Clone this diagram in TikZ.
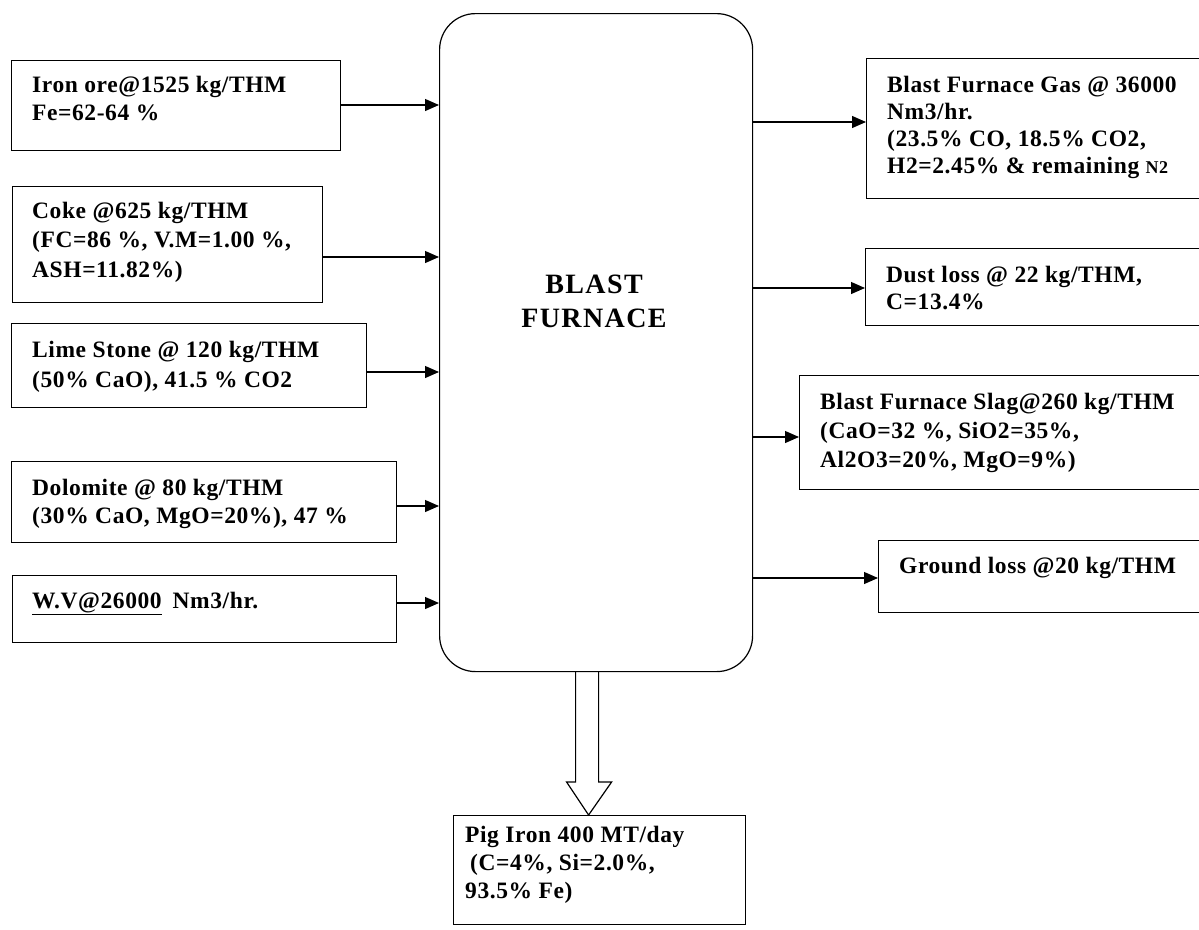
\documentclass[tikz,border=0pt]{standalone}
\usepackage{fontspec}
\setmainfont{Liberation Serif}[LetterSpace=2.5]
\newfontfamily\titlefont{Liberation Serif}[LetterSpace=5]
\usetikzlibrary{arrows.meta,calc}
\tikzset{
  boxline/.style={draw=black, line width=1.2pt, rectangle, inner sep=0pt},
  lbl/.style={anchor=north west, inner sep=0pt, align=left, font=\bfseries\fontsize{23.5}{28}\selectfont},
  flow/.style={draw=black, line width=1.2pt, -{Triangle[length=14pt,width=12pt]}},
}
\newcommand{\fstrut}{\rule{0pt}{18pt}}
\newcommand{\mkbox}[5]{\node[boxline, anchor=north west, minimum width=#4-#2, minimum height=#5-#3] (#1) at (#2,#3) {};}
\begin{document}
\begin{tikzpicture}[x=1pt,y=-1pt]
\useasboundingbox (0,0) rectangle (1199,929);
% furnace
\node[boxline, rounded corners=36pt, anchor=north west, minimum width=313, minimum height=658] (furnace) at (439,13) {};
\node[anchor=north, inner sep=0pt, align=center, font=\titlefont\bfseries\fontsize{28}{34}\selectfont] (ftext) at (594,271) {\rule{0pt}{22pt}BLAST\\FURNACE};
% input boxes
\mkbox{iron}{11}{60}{340}{150}
\mkbox{coke}{12}{186}{322}{302}
\mkbox{lime}{11}{323}{366}{407}
\mkbox{dolo}{11}{461}{396}{542}
\mkbox{wv}{12}{575}{396}{642}
% output boxes
\mkbox{gas}{866}{58}{1202}{198}
\mkbox{dust}{865}{248}{1202}{325}
\mkbox{slag}{799}{375}{1202}{489}
\mkbox{ground}{878}{540}{1202}{612}
\mkbox{pig}{453}{815}{745}{924}
% texts
\node[lbl] (tiron) at (32,74) {\fstrut Iron ore@1525 kg/THM\\Fe=62-64 \%};
\node[lbl, font=\bfseries\fontsize{23.5}{29.5}\selectfont] (tcoke) at (32,200) {\fstrut Coke @625 kg/THM\\(FC=86 \%, V.M=1.00 \%,\\ASH=11.82\%)};
\node[lbl, font=\bfseries\fontsize{23.5}{30}\selectfont] (tlime) at (32,339) {\fstrut Lime Stone @ 120 kg/THM\\(50\% CaO), 41.5 \% CO2};
\node[lbl] (tdolo) at (32,477) {\fstrut Dolomite @ 80 kg/THM\\(30\% CaO, MgO=20\%), 47 \%};
\node[lbl] (twv) at (32,590) {\fstrut\underline{W.V@26000}\hspace{11pt}Nm3/hr.};
\node[lbl, font=\bfseries\fontsize{23.5}{27}\selectfont] (tgas) at (887,74) {\fstrut Blast Furnace Gas @ 36000\\Nm3/hr.\\(23.5\% CO, 18.5\% CO2,\\H2=2.45\% \& remaining {\fontsize{18}{18}\selectfont N2}};
\node[lbl, font=\bfseries\fontsize{23.5}{27}\selectfont] (tdust) at (886,264) {\fstrut Dust loss @ 22 kg/THM,\\C=13.4\%};
\node[lbl, font=\bfseries\fontsize{23.5}{29}\selectfont] (tslag) at (820,391) {\fstrut Blast Furnace Slag@260 kg/THM\\(CaO=32 \%, SiO2=35\%,\\Al2O3=20\%, MgO=9\%)};
\node[lbl] (tground) at (899,555) {\fstrut Ground loss @20 kg/THM};
\node[lbl, font=\bfseries\fontsize{23.5}{28}\selectfont] (tpig) at (465,824) {\fstrut Pig Iron 400 MT/day\\\hspace{5pt}(C=4\%, Si=2.0\%,\\93.5\% Fe)};
% input arrows
\draw[flow] (iron.east |- 0,105) -- (furnace.west |- 0,105);
\draw[flow] (coke.east |- 0,257) -- (furnace.west |- 0,257);
\draw[flow] (lime.east |- 0,372) -- (furnace.west |- 0,372);
\draw[flow] (dolo.east |- 0,506) -- (furnace.west |- 0,506);
\draw[flow] (wv.east |- 0,603) -- (furnace.west |- 0,603);
% output arrows
\draw[flow] (furnace.east |- 0,122) -- (gas.west |- 0,122);
\draw[flow] (furnace.east |- 0,288) -- (dust.west |- 0,288);
\draw[flow] (furnace.east |- 0,437) -- (slag.west |- 0,437);
\draw[flow] (furnace.east |- 0,578) -- (ground.west |- 0,578);
% hollow arrow to pig iron
\draw[line width=1.2pt, line join=miter]
  ($(furnace.south)+(-20.5,0)$) -- ($(pig.north)+(-24,-33)$) -- ($(pig.north)+(-33,-33)$)
  -- ($(pig.north)+(-11,0)$) -- ($(pig.north)+(12,-33)$) -- ($(pig.north)+(-1,-33)$)
  -- ($(furnace.south)+(2.5,0)$);
\end{tikzpicture}
\end{document}
